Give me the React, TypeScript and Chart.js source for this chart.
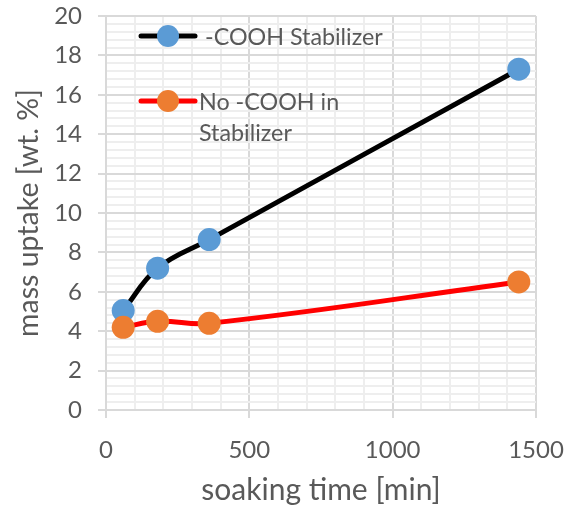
import React, { useEffect, useRef } from "react";
import { Chart, registerables } from "chart.js";

Chart.register(...registerables);

const soakingTimes = [60, 180, 360, 1440];
const coohValues = [5.05, 7.2, 8.65, 17.3];
const noCoohValues = [4.2, 4.5, 4.4, 6.5];
const seriesNames = ["-COOH Stabilizer", "No -COOH in Stabilizer"];
const legendLines = [["-COOH Stabilizer"], ["No -COOH in", "Stabilizer"]];

const FONT = "Lato, 'Open Sans', sans-serif";
const TEXT = "#595959";
const MAJOR = "#d9d9d9";
const MINOR = "#eeeeee";

// plot frame inside the 564x508 canvas
const AREA = { left: 106, top: 16, right: 536, bottom: 410 };

const isMult = (v: number, m: number) => Math.abs(v / m - Math.round(v / m)) < 1e-6;

const framePlugin = {
  id: "fixedFrame",
  afterLayout(chart: any) {
    const { left, top, right, bottom } = AREA;
    const ca = chart.chartArea;
    ca.left = left;
    ca.top = top;
    ca.right = right;
    ca.bottom = bottom;
    ca.width = right - left;
    ca.height = bottom - top;
    const x = chart.scales.x;
    const y = chart.scales.y;
    x.left = left;
    x.right = right;
    x.width = right - left;
    x.top = bottom;
    x.bottom = chart.height;
    x.height = chart.height - bottom;
    y.left = 0;
    y.right = left;
    y.width = left;
    y.top = top;
    y.bottom = bottom;
    y.height = bottom - top;
    x.configure();
    y.configure();
  },
};

const legendPlugin = {
  id: "insideLegend",
  afterDraw(chart: any) {
    const { ctx, chartArea } = chart;
    const L = chartArea.left;
    const T = chartArea.top;
    const items = [
      { line: "#000000", dot: "#5B9BD5", y: T + 20, tx: L + 99 },
      { line: "#FF0000", dot: "#ED7D31", y: T + 85, tx: L + 93 },
    ];
    ctx.save();
    items.forEach((it, i) => {
      ctx.strokeStyle = it.line;
      ctx.lineWidth = 5;
      ctx.lineCap = "round";
      ctx.beginPath();
      ctx.moveTo(L + 35, it.y);
      ctx.lineTo(L + 89, it.y);
      ctx.stroke();
      ctx.fillStyle = it.dot;
      ctx.beginPath();
      ctx.arc(L + 62, it.y, 11, 0, Math.PI * 2);
      ctx.fill();
      ctx.fillStyle = TEXT;
      ctx.font = `23.3px ${FONT}`;
      ctx.textBaseline = "middle";
      ctx.textAlign = "left";
      legendLines[i].forEach((s, j) => {
        ctx.fillText(s, it.tx, it.y + 1 + j * 31.6);
      });
    });
    ctx.restore();
  },
};

export default function App() {
  const ref = useRef<HTMLCanvasElement>(null);
  useEffect(() => {
    if (!ref.current) return;
    const chart = new Chart(ref.current, {
      type: "line",
      data: {
        datasets: [
          {
            label: seriesNames[0],
            data: soakingTimes.map((x, i) => ({ x, y: coohValues[i] })),
            borderColor: "#000000",
            backgroundColor: "#5B9BD5",
            pointBackgroundColor: "#5B9BD5",
            pointBorderWidth: 0,
            pointRadius: 11.5,
            borderWidth: 5,
            tension: 0.4,
            order: 1,
          },
          {
            label: seriesNames[1],
            data: soakingTimes.map((x, i) => ({ x, y: noCoohValues[i] })),
            borderColor: "#FF0000",
            backgroundColor: "#ED7D31",
            pointBackgroundColor: "#ED7D31",
            pointBorderWidth: 0,
            pointRadius: 11.5,
            borderWidth: 5,
            tension: 0.4,
            order: 0,
          },
        ],
      },
      options: {
        animation: false,
        responsive: true,
        maintainAspectRatio: false,
        plugins: { legend: { display: false }, tooltip: { enabled: false } },
        scales: {
          x: {
            type: "linear",
            min: 0,
            max: 1500,
            ticks: {
              stepSize: 100,
              autoSkip: false,
              maxTicksLimit: 1000,
              maxRotation: 0,
              padding: 18,
              color: TEXT,
              font: { family: FONT, size: 24 },
              callback: (v: any) => (isMult(Number(v), 500) ? String(v) : ""),
            },
            grid: {
              color: (c: any) => (c.tick && isMult(c.tick.value, 500) ? MAJOR : MINOR),
              tickColor: (c: any) => (c.tick && isMult(c.tick.value, 500) ? MAJOR : "rgba(0,0,0,0)"),
              tickLength: 8,
              lineWidth: 2,
            },
            border: { color: MAJOR, width: 2 },
            title: {
              display: true,
              text: "soaking time [min]",
              color: TEXT,
              font: { family: FONT, size: 30 },
              padding: { top: 0, bottom: 0 },
            },
          },
          y: {
            type: "linear",
            min: 0,
            max: 20,
            ticks: {
              stepSize: 0.4,
              autoSkip: false,
              maxTicksLimit: 1000,
              padding: 16,
              color: TEXT,
              font: { family: FONT, size: 24 },
              callback: (v: any) => (isMult(Number(v), 2) ? String(Math.round(Number(v))) : ""),
            },
            grid: {
              color: (c: any) => (c.tick && isMult(c.tick.value, 2) ? MAJOR : MINOR),
              tickColor: (c: any) => (c.tick && isMult(c.tick.value, 2) ? MAJOR : "rgba(0,0,0,0)"),
              tickLength: 8,
              lineWidth: 2,
            },
            border: { color: MAJOR, width: 2 },
            title: {
              display: true,
              text: "mass uptake [wt. %]",
              color: TEXT,
              font: { family: FONT, size: 28.5 },
              padding: { top: 12, bottom: 0 },
            },
          },
        },
      },
      plugins: [framePlugin, legendPlugin],
    });
    return () => chart.destroy();
  }, []);
  return (
    <div style={{ position: "absolute", left: 0, top: 0, width: 564, height: 508, background: "#fff" }}>
      <canvas ref={ref} />
    </div>
  );
}
